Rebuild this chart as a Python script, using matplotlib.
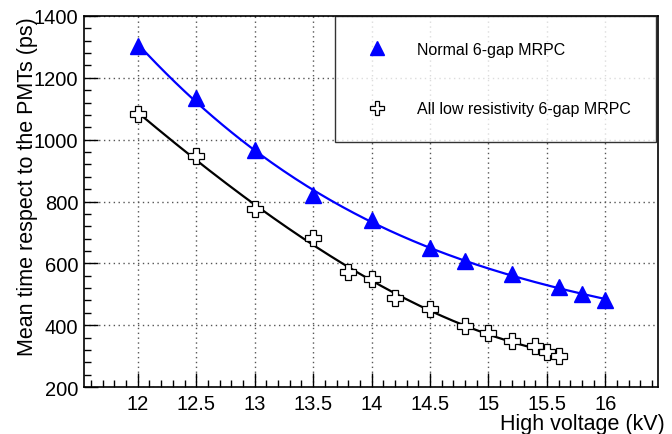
import numpy as np
import matplotlib.pyplot as plt
from matplotlib.ticker import MultipleLocator

plt.rcParams['font.family'] = ['Liberation Sans', 'DejaVu Sans']

# Normal 6-gap MRPC
hv_normal = [12.0, 12.5, 13.0, 13.5, 14.0, 14.5, 14.8, 15.2, 15.6, 15.8, 16.0]
t_normal = [1303, 1135, 967, 822, 741, 648, 606, 565, 523, 500, 482]

# All low resistivity 6-gap MRPC
hv_lowres = [12.0, 12.5, 13.0, 13.5, 13.8, 14.0, 14.2, 14.5, 14.8, 15.0, 15.2, 15.4, 15.5, 15.6]
t_lowres = [1083, 947, 776, 681, 573, 549, 487, 452, 398, 375, 350, 332, 312, 301]

fig = plt.figure(figsize=(6.72, 4.35), dpi=100)
ax = fig.add_axes([84 / 672, 1 - 388 / 435, (658 - 84) / 672, (388 - 17) / 435])

# fitted curves
for hv, t, col in [(hv_normal, t_normal, 'blue'), (hv_lowres, t_lowres, 'black')]:
    coef = np.polyfit(hv, t, 3)
    xs = np.linspace(min(hv), max(hv), 200)
    ax.plot(xs, np.polyval(coef, xs), color=col, lw=1.6, zorder=2)

ax.plot(hv_normal, t_normal, ls='none', marker='^', ms=11.5, color='blue',
        mec='blue', zorder=3, label='Normal 6-gap MRPC')
ax.plot(hv_lowres, t_lowres, ls='none', marker='P', ms=11.5, mfc='white',
        mec='black', mew=0.9, zorder=3, label='All low resistivity 6-gap MRPC')

ax.set_xlim(11.54, 16.45)
ax.set_ylim(200, 1400)
ax.xaxis.set_major_locator(MultipleLocator(0.5))
ax.xaxis.set_minor_locator(MultipleLocator(0.1))
ax.yaxis.set_major_locator(MultipleLocator(200))
ax.yaxis.set_minor_locator(MultipleLocator(40))
ax.xaxis.set_major_formatter(plt.FuncFormatter(lambda v, p: f'{v:g}'))
ax.tick_params(which='both', direction='in', top=False, right=False,
               labelsize=14.5, width=1)
ax.tick_params(which='major', length=10)
ax.tick_params(which='minor', length=5)
ax.tick_params(axis='x', pad=5)
ax.tick_params(axis='y', pad=4)
ax.grid(True, which='major', ls=(0, (1, 2.5)), color='#555555', lw=1)
for s in ax.spines.values():
    s.set_linewidth(1.2)

ax.set_xlabel('High voltage (kV)', fontsize=15.5, loc='right', labelpad=0)
ax.xaxis.label.set_x(1.012)
ax.set_ylabel('Mean time respect to the PMTs (ps)', fontsize=15.5, loc='top', labelpad=-3)

leg = ax.legend(loc='upper right', bbox_to_anchor=((656 - 84) / 574, 1.0),
                frameon=True, fancybox=False, edgecolor='black', fontsize=11.5,
                borderpad=1.6, labelspacing=2.8, handletextpad=1.5,
                borderaxespad=0, markerscale=0.9)
leg.get_frame().set_linewidth(1)

fig.savefig('out.png', dpi=100)
